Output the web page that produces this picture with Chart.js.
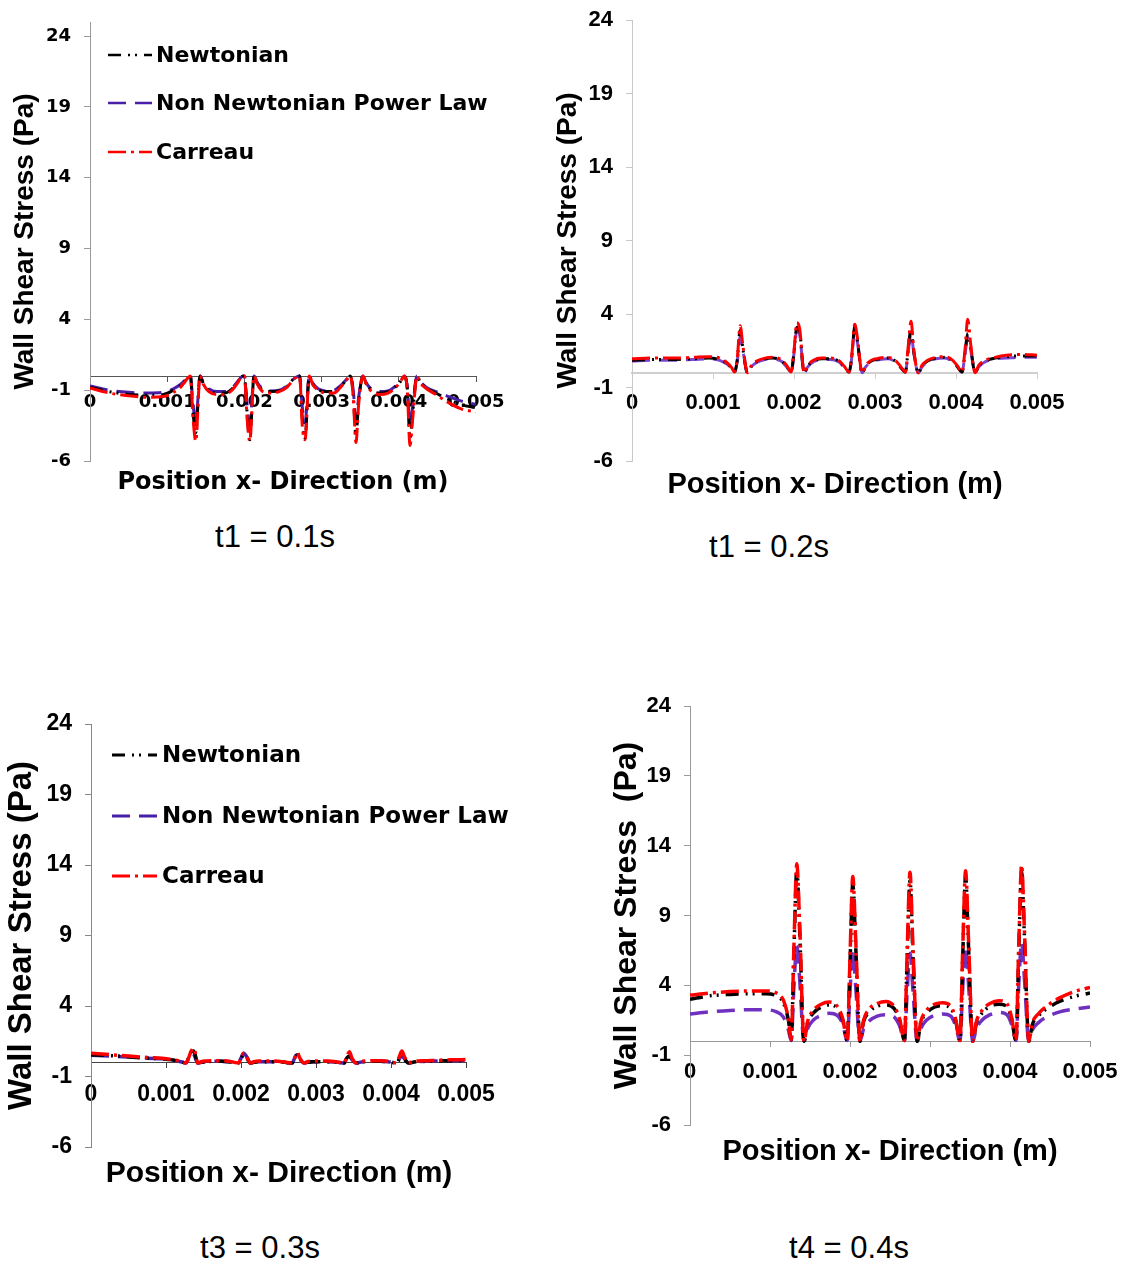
<!DOCTYPE html>
<html>
<head>
<meta charset="utf-8">
<script src="https://cdn.jsdelivr.net/npm/chart.js@4.4.1/dist/chart.umd.min.js"></script>
<style>
  body { margin: 0; background: #fff; }
  #page { position: relative; width: 1131px; height: 1264px; overflow: hidden; background: #fff; }
  #page canvas { position: absolute; }
  .txt { position: absolute; white-space: pre; transform: translate(-50%, -50%); line-height: 1; color: #000; }
</style>
</head>
<body>
<div id="page">
  <canvas id="c1" width="540" height="480" style="left:0px;top:0px"></canvas>
  <canvas id="c2" width="591" height="480" style="left:540px;top:0px"></canvas>
  <canvas id="c3" width="540" height="465" style="left:0px;top:700px"></canvas>
  <canvas id="c4" width="571" height="460" style="left:560px;top:680px"></canvas>

  <div class="txt" style="left:283px;top:481px;font:bold 24px 'DejaVu Sans'">Position x- Direction (m)</div>
  <div class="txt" style="left:275px;top:537px;font:31px 'Liberation Sans'">t1 = 0.1s</div>
  <div class="txt" style="left:835px;top:483px;font:bold 29px 'Liberation Sans'">Position x- Direction (m)</div>
  <div class="txt" style="left:769px;top:547px;font:31px 'Liberation Sans'">t1 = 0.2s</div>
  <div class="txt" style="left:279px;top:1172px;font:bold 30px 'Liberation Sans'">Position x- Direction (m)</div>
  <div class="txt" style="left:260px;top:1248px;font:31px 'Liberation Sans'">t3 = 0.3s</div>
  <div class="txt" style="left:890px;top:1150px;font:bold 29px 'Liberation Sans'">Position x- Direction (m)</div>
  <div class="txt" style="left:849px;top:1248px;font:31px 'Liberation Sans'">t4 = 0.4s</div>
</div>
<script>
// x positions along the wall (m), shared by every series
const xPos = [
  0, 0.00025, 0.0005, 0.00075, 0.00095, 0.00108, 0.00117, 0.00123,
  0.001265, 0.0013, 0.001335, 0.00137, 0.001425,
  0.00147, 0.00154, 0.00164, 0.00174, 0.00184, 0.00191,
  0.001965, 0.002, 0.002035, 0.00207, 0.002125,
  0.00217, 0.00224, 0.00234, 0.00245, 0.00255, 0.00262,
  0.00268, 0.002715, 0.00275, 0.002785, 0.00284,
  0.002885, 0.002955, 0.00306, 0.00316, 0.00326, 0.00332,
  0.003375, 0.00341, 0.003445, 0.00348, 0.003535,
  0.00358, 0.00365, 0.00375, 0.00386, 0.00396, 0.00402,
  0.004075, 0.00411, 0.004145, 0.00418, 0.004235,
  0.00428, 0.00436, 0.00448, 0.00462, 0.0048, 0.005
];

const xTicks = [0, 0.001, 0.002, 0.003, 0.004, 0.005];
const xTickLabels = ['0', '0.001', '0.002', '0.003', '0.004', '0.005'];
const yTicks = [-6, -1, 4, 9, 14, 19, 24];
const seriesNames = ['Newtonian', 'Non Newtonian Power Law', 'Carreau'];
const yTitle = 'Wall Shear Stress (Pa)';

// t = 0.1 s
const wss01Newtonian = [
  -0.8, -1.1, -1.3, -1.35, -1.3, -1.0, -0.7, -0.35,
  -0.12, 0.0, -2.6, -4.0, 0.0,
  -0.55, -1.0, -1.2, -1.2, -0.9, -0.45,
  -0.05, 0.0, -2.6, -4.5, 0.0,
  -0.55, -1.0, -1.1, -1.05, -0.75, -0.3,
  -0.05, 0.0, -3.0, -4.4, 0.0,
  -0.55, -0.95, -1.1, -1.1, -0.65, -0.3,
  0.0, -1.3, -4.2, -1.8, 0.0,
  -0.55, -1.0, -1.2, -1.1, -0.75, -0.4,
  0.0, -0.9, -4.4, -2.6, 0.0,
  -0.45, -0.85, -1.2, -1.6, -2.0, -2.25
];
const wss01PowerLaw = [
  -0.7, -1.0, -1.15, -1.2, -1.15, -0.9, -0.6, -0.3,
  -0.1, 0.0, -2.0, -3.3, 0.0,
  -0.5, -0.9, -1.1, -1.1, -0.85, -0.4,
  -0.05, 0.0, -2.0, -3.4, 0.0,
  -0.5, -0.9, -1.05, -1.0, -0.7, -0.3,
  -0.05, 0.0, -2.2, -3.3, 0.0,
  -0.5, -0.9, -1.05, -1.0, -0.6, -0.25,
  0.0, -1.0, -3.1, -1.5, 0.0,
  -0.5, -0.95, -1.1, -1.05, -0.7, -0.35,
  0.0, -0.8, -3.3, -2.2, 0.0,
  -0.4, -0.8, -1.1, -1.4, -1.75, -2.0
];
const wss01Carreau = [
  -0.85, -1.2, -1.4, -1.5, -1.45, -1.15, -0.8, -0.4,
  -0.15, 0.0, -3.0, -4.6, 0.0,
  -0.6, -1.1, -1.3, -1.3, -1.0, -0.5,
  -0.05, 0.0, -3.0, -4.6, 0.0,
  -0.6, -1.1, -1.2, -1.1, -0.8, -0.35,
  -0.05, 0.0, -3.5, -4.5, 0.0,
  -0.6, -1.0, -1.2, -1.2, -0.7, -0.3,
  0.0, -1.5, -4.7, -2.0, 0.0,
  -0.6, -1.1, -1.3, -1.2, -0.8, -0.4,
  0.0, -1.0, -4.9, -3.0, 0.0,
  -0.5, -0.9, -1.3, -1.8, -2.3, -2.55
];

// t = 0.2 s
const wss02Newtonian = [
  0.85, 0.9, 0.9, 0.95, 1.0, 0.9, 0.65, 0.3,
  0.05, 0.9, 2.9, 1.6, 0.0,
  0.4, 0.75, 0.95, 1.0, 0.85, 0.45,
  0.05, 1.4, 3.1, 2.8, 0.0,
  0.45, 0.8, 0.95, 0.95, 0.8, 0.4,
  0.05, 1.2, 3.2, 2.1, 0.0,
  0.45, 0.8, 0.95, 1.0, 0.75, 0.35,
  0.05, 1.6, 3.0, 1.4, 0.0,
  0.45, 0.8, 1.0, 1.05, 0.8, 0.4,
  0.05, 1.3, 2.7, 1.8, 0.0,
  0.45, 0.8, 1.0, 1.1, 1.15, 1.15
];
const wss02PowerLaw = [
  0.8, 0.85, 0.85, 0.9, 0.95, 0.85, 0.6, 0.3,
  0.05, 0.8, 2.5, 1.5, 0.0,
  0.4, 0.7, 0.9, 0.95, 0.8, 0.4,
  0.05, 1.3, 2.9, 2.6, 0.0,
  0.4, 0.75, 0.9, 0.9, 0.75, 0.4,
  0.05, 1.1, 3.0, 2.0, 0.0,
  0.4, 0.75, 0.9, 0.95, 0.7, 0.35,
  0.05, 1.4, 2.7, 1.3, 0.0,
  0.4, 0.75, 0.95, 1.0, 0.75, 0.4,
  0.05, 1.2, 2.4, 1.6, 0.0,
  0.4, 0.75, 0.95, 1.0, 1.05, 1.05
];
const wss02Carreau = [
  0.95, 1.0, 1.0, 1.05, 1.1, 1.0, 0.7, 0.35,
  0.05, 1.0, 3.2, 1.8, 0.0,
  0.45, 0.8, 1.0, 1.05, 0.9, 0.5,
  0.05, 1.5, 3.4, 3.0, 0.0,
  0.5, 0.85, 1.0, 1.0, 0.85, 0.45,
  0.05, 1.3, 3.3, 2.3, 0.0,
  0.5, 0.85, 1.0, 1.05, 0.8, 0.4,
  0.05, 1.8, 3.5, 1.5, 0.0,
  0.5, 0.85, 1.05, 1.1, 0.85, 0.45,
  0.05, 1.5, 3.65, 2.0, 0.0,
  0.5, 0.85, 1.05, 1.2, 1.25, 1.2
];

// t = 0.3 s
const wss03Newtonian = [
  0.55, 0.48, 0.4, 0.3, 0.25, 0.18, 0.08, 0.0,
  -0.05, 0.3, 0.75, 0.8, -0.05,
  0.0, 0.05, 0.08, 0.08, 0.05, 0.0,
  -0.05, 0.25, 0.55, 0.4, -0.05,
  0.0, 0.05, 0.05, 0.05, 0.03, -0.02,
  -0.05, 0.25, 0.55, 0.25, -0.05,
  0.0, 0.05, 0.05, 0.05, 0.03, -0.02,
  -0.05, 0.3, 0.45, 0.2, -0.05,
  0.0, 0.05, 0.08, 0.08, 0.05, 0.0,
  -0.05, 0.2, 0.35, 0.2, -0.05,
  0.0, 0.05, 0.08, 0.1, 0.12, 0.15
];
const wss03PowerLaw = [
  0.5, 0.45, 0.38, 0.3, 0.25, 0.18, 0.08, 0.0,
  -0.05, 0.25, 0.6, 0.55, -0.05,
  0.0, 0.05, 0.08, 0.08, 0.05, 0.0,
  -0.05, 0.3, 0.65, 0.45, -0.05,
  0.0, 0.05, 0.05, 0.05, 0.03, -0.02,
  -0.05, 0.3, 0.6, 0.25, -0.05,
  0.0, 0.05, 0.05, 0.05, 0.03, -0.02,
  -0.05, 0.3, 0.5, 0.2, -0.05,
  0.0, 0.05, 0.08, 0.08, 0.05, 0.0,
  -0.05, 0.25, 0.45, 0.25, -0.05,
  0.0, 0.05, 0.08, 0.1, 0.12, 0.15
];
const wss03Carreau = [
  0.65, 0.55, 0.45, 0.35, 0.3, 0.2, 0.1, 0.0,
  -0.05, 0.3, 0.8, 1.0, -0.05,
  0.05, 0.1, 0.12, 0.12, 0.08, 0.0,
  -0.05, 0.3, 0.65, 0.45, -0.05,
  0.05, 0.1, 0.1, 0.1, 0.05, 0.0,
  -0.05, 0.3, 0.7, 0.3, -0.05,
  0.05, 0.1, 0.1, 0.1, 0.05, 0.0,
  -0.05, 0.4, 0.75, 0.3, -0.05,
  0.05, 0.1, 0.12, 0.12, 0.08, 0.0,
  -0.05, 0.4, 0.8, 0.4, -0.05,
  0.05, 0.1, 0.12, 0.15, 0.18, 0.2
];

// t = 0.4 s
const wss04Newtonian = [
  3.0, 3.25, 3.35, 3.4, 3.4, 3.25, 2.7, 1.5,
  0.1, 6.5, 12.3, 8.0, 0.0,
  1.3, 2.0, 2.45, 2.6, 2.35, 1.5,
  0.05, 5.5, 11.3, 7.0, 0.0,
  1.4, 2.1, 2.5, 2.6, 2.35, 1.5,
  0.05, 6.0, 11.5, 6.5, 0.0,
  1.3, 2.0, 2.45, 2.55, 2.35, 1.5,
  0.05, 6.3, 11.8, 7.0, 0.0,
  1.3, 2.0, 2.5, 2.65, 2.5, 1.6,
  0.05, 6.5, 12.1, 7.5, 0.0,
  1.2, 1.85, 2.4, 2.85, 3.2, 3.45
];
const wss04PowerLaw = [
  1.95, 2.1, 2.2, 2.25, 2.25, 2.1, 1.7, 0.8,
  0.05, 4.0, 6.85, 4.5, 0.0,
  0.9, 1.5, 1.85, 2.0, 1.85, 1.2,
  0.05, 3.5, 6.55, 4.0, 0.0,
  0.9, 1.45, 1.8, 1.9, 1.75, 1.1,
  0.05, 3.6, 6.3, 3.8, 0.0,
  0.9, 1.5, 1.85, 1.95, 1.8, 1.1,
  0.05, 3.9, 6.8, 4.2, 0.0,
  0.9, 1.5, 1.9, 2.05, 1.9, 1.2,
  0.05, 4.1, 7.1, 4.5, 0.0,
  0.8, 1.35, 1.8, 2.1, 2.3, 2.45
];
const wss04Carreau = [
  3.3, 3.45, 3.55, 3.6, 3.6, 3.45, 2.9, 1.6,
  0.1, 7.0, 12.7, 8.5, 0.0,
  1.4, 2.2, 2.65, 2.8, 2.5, 1.6,
  0.05, 6.0, 11.8, 7.5, 0.0,
  1.5, 2.3, 2.7, 2.85, 2.5, 1.6,
  0.05, 6.5, 12.1, 7.0, 0.0,
  1.4, 2.2, 2.65, 2.75, 2.5, 1.6,
  0.05, 6.8, 12.2, 7.5, 0.0,
  1.4, 2.2, 2.7, 2.9, 2.7, 1.7,
  0.05, 7.0, 12.6, 8.0, 0.0,
  1.3, 2.0, 2.6, 3.1, 3.55, 3.85
];

// draws the little line-sample key inside the plot, like the original
const seriesKey = {
  id: 'seriesKey',
  afterDraw(chart, args, opts) {
    if (!opts.show) return;
    const ctx = chart.ctx;
    ctx.save();
    ctx.font = opts.font;
    ctx.textBaseline = 'middle';
    ctx.textAlign = 'left';
    chart.data.datasets.forEach((ds, i) => {
      const y = opts.rows[i];
      ctx.strokeStyle = ds.borderColor;
      ctx.lineWidth = opts.lineWidth;
      ctx.setLineDash(ds.borderDash);
      ctx.beginPath();
      ctx.moveTo(opts.x0, y);
      ctx.lineTo(opts.x1, y);
      ctx.stroke();
      ctx.setLineDash([]);
      ctx.fillStyle = '#000';
      ctx.fillText(ds.label, opts.textX, y + 1);
    });
    ctx.restore();
  }
};

function makePanel(id, values, st) {
  const colors = ['#000000', st.purple, '#ff0000'];
  const dashes = [[13, 7, 2, 5, 2, 7], [18, 9], [18, 5, 3, 5]];
  const order = [1, 2, 0];
  const datasets = values.map((vals, k) => ({
    label: seriesNames[k],
    data: xPos.map((x, i) => ({ x: x, y: vals[i] })),
    borderColor: colors[k],
    borderDash: dashes[k],
    borderWidth: st.lw,
    pointRadius: 0,
    fill: false,
    cubicInterpolationMode: 'monotone',
    order: order[k]
  }));

  return new Chart(document.getElementById(id), {
    type: 'line',
    data: { datasets: datasets },
    plugins: [seriesKey],
    options: {
      responsive: false,
      animation: false,
      events: [],
      layout: { padding: st.pad },
      plugins: {
        legend: { display: false },
        tooltip: { enabled: false },
        seriesKey: st.key
      },
      scales: {
        x: {
          type: 'linear',
          min: 0,
          max: 0.005,
          position: { y: 0 },
          afterBuildTicks: s => { s.ticks = xTicks.map(v => ({ value: v })); },
          ticks: {
            autoSkip: false, maxRotation: 0, padding: st.xPad, color: '#000',
            font: st.tickFont,
            callback: (v, i) => xTickLabels[i]
          },
          grid: { drawOnChartArea: false, tickLength: 5, color: st.xColor },
          border: { color: st.xColor, width: st.xWidth }
        },
        y: {
          type: 'linear',
          min: -6,
          max: st.yMax,
          position: 'left',
          afterBuildTicks: s => { s.ticks = yTicks.map(v => ({ value: v })); },
          // fixed width, and no extra vertical room for the end labels
          afterFit: s => { s.width = st.yW; s.paddingTop = 0; s.paddingBottom = 0; },
          ticks: { padding: 13, color: '#000', font: st.tickFont, callback: v => String(v) },
          grid: { drawOnChartArea: false, tickLength: 6, color: st.yColor },
          border: { color: st.yColor, width: 1 },
          title: {
            display: true, text: st.yText || yTitle, color: '#000',
            font: st.yTitleFont, padding: 0
          }
        }
      }
    }
  });
}

makePanel('c1', [wss01Newtonian, wss01PowerLaw, wss01Carreau], {
  purple: '#4a1fa8', lw: 3,
  pad: { left: 8, top: 22, right: 64, bottom: 19 }, yW: 82, yMax: 25,
  xPad: 10, xColor: '#555', xWidth: 1, yColor: '#999',
  tickFont: { family: 'DejaVu Sans', size: 18, weight: 'bold' },
  yTitleFont: { family: 'Liberation Sans', size: 28, weight: 'bold' },
  key: { show: true, font: 'bold 22px "DejaVu Sans"', x0: 108, x1: 152, textX: 156, rows: [55, 103, 152], lineWidth: 2.5 }
});

makePanel('c2', [wss02Newtonian, wss02PowerLaw, wss02Carreau], {
  purple: '#7a45d0', lw: 3,
  pad: { left: 11, top: 20, right: 94, bottom: 19 }, yW: 81, yMax: 24,
  xPad: 12, xColor: '#cfcfcf', xWidth: 2, yColor: '#c8c8c8',
  tickFont: { family: 'Liberation Sans', size: 22, weight: 'bold' },
  yTitleFont: { family: 'Liberation Sans', size: 28, weight: 'bold' },
  key: { show: false }
});

makePanel('c3', [wss03Newtonian, wss03PowerLaw, wss03Carreau], {
  purple: '#4a1fa8', lw: 3.5,
  pad: { left: 2, top: 24, right: 74, bottom: 18 }, yW: 89, yMax: 24,
  xPad: 13, xColor: '#444', xWidth: 1, yColor: '#888',
  tickFont: { family: 'Liberation Sans', size: 23, weight: 'bold' },
  yTitleFont: { family: 'Liberation Sans', size: 33, weight: 'bold' },
  key: { show: true, font: 'bold 23px "DejaVu Sans"', x0: 112, x1: 157, textX: 162, rows: [55, 116, 176], lineWidth: 3 }
});

makePanel('c4', [wss04Newtonian, wss04PowerLaw, wss04Carreau], {
  purple: '#7030c0', lw: 3.5,
  pad: { left: 48, top: 26, right: 41, bottom: 15 }, yW: 82, yMax: 24,
  xPad: 13, xColor: '#999', xWidth: 1, yColor: '#999',
  tickFont: { family: 'Liberation Sans', size: 22, weight: 'bold' },
  yTitleFont: { family: 'Liberation Sans', size: 32, weight: 'bold' },
  yText: 'Wall Shear Stress  (Pa)',
  key: { show: false }
});
</script>
</body>
</html>
